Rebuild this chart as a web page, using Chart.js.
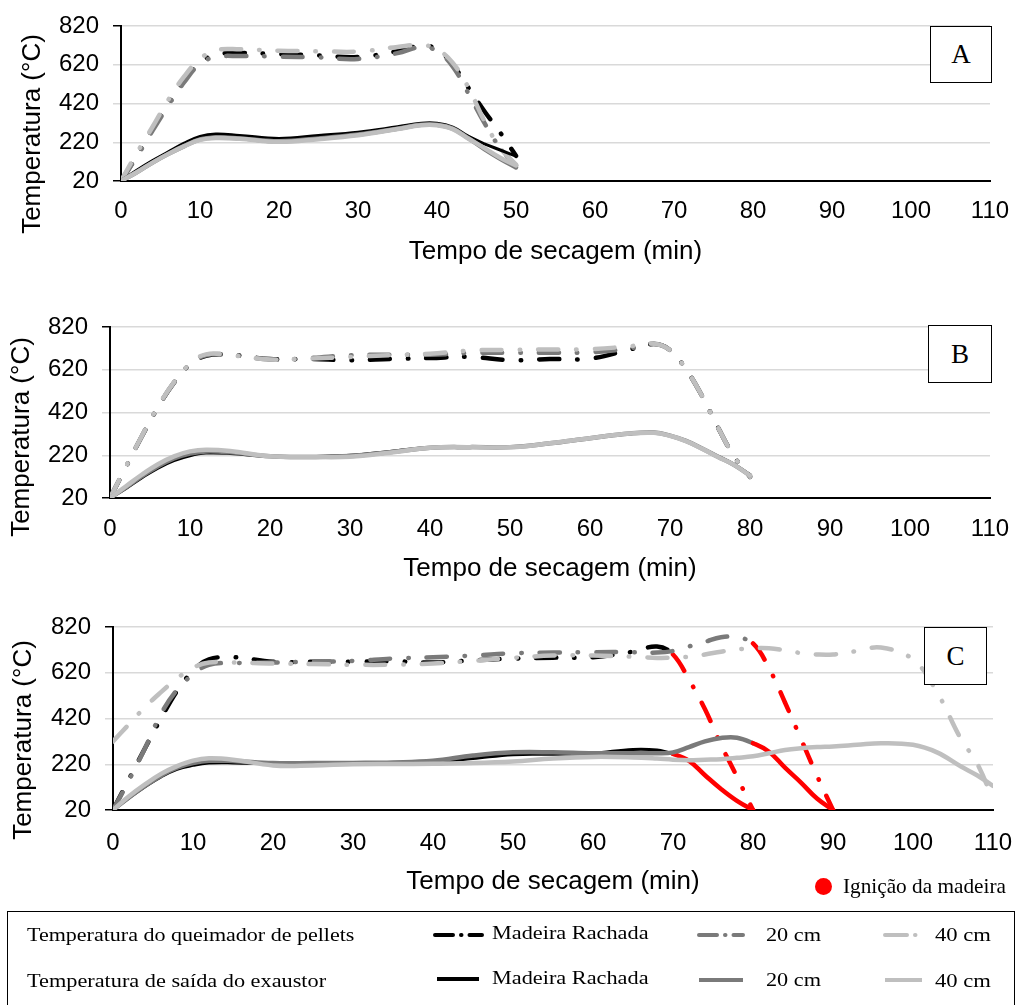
<!DOCTYPE html>
<html>
<head>
<meta charset="utf-8">
<script src="https://cdn.jsdelivr.net/npm/chart.js"></script>
<style>
body { margin:0; background:#fff; width:1017px; height:1005px; position:relative; overflow:hidden; font-family:"Liberation Sans", Arial, sans-serif; }
canvas { position:absolute; left:0; }
.tag { position:absolute; border:1.5px solid #000; background:#fff; box-sizing:border-box;
       font:27px "Liberation Serif", "Times New Roman", serif; display:flex; align-items:center; justify-content:center; }
.legenda { position:absolute; left:7px; top:911px; width:1008px; height:120px; border:1.5px solid #000; box-sizing:border-box; }
.lg { position:absolute; font:19px "Liberation Serif", "Times New Roman", serif; white-space:nowrap; line-height:24px; transform-origin:left center; }
svg { position:absolute; left:0; top:0; }
</style>
</head>
<body>

<canvas id="chartA" width="1017" height="280" style="top:0px"></canvas>
<canvas id="chartB" width="1017" height="310" style="top:290px"></canvas>
<canvas id="chartC" width="1017" height="300" style="top:600px"></canvas>

<div class="tag" style="left:930px;top:26px;width:62px;height:57px">A</div>
<div class="tag" style="left:928px;top:325px;width:64px;height:58px">B</div>
<div class="tag" style="left:924px;top:627px;width:63px;height:58px">C</div>

<div style="position:absolute;left:815px;top:878px;width:17px;height:17px;border-radius:50%;background:#ff0000"></div>
<div class="lg" data-w="163" style="left:843px;top:886px;font-size:21px">Ignição da madeira</div>

<div class="legenda"></div>
<svg width="1017" height="1005">
  <line x1="435" y1="935" x2="482" y2="935" stroke="#000" stroke-width="4" stroke-dasharray="18 8 0.5 8" stroke-linecap="round"/>
  <line x1="699" y1="935" x2="743" y2="935" stroke="#7a7a7a" stroke-width="4" stroke-dasharray="18 8 0.5 8" stroke-linecap="round"/>
  <line x1="885" y1="935" x2="922" y2="935" stroke="#bfbfbf" stroke-width="4" stroke-dasharray="22 8 0.5 8" stroke-linecap="round"/>
  <line x1="437" y1="979" x2="479" y2="979" stroke="#000" stroke-width="4"/>
  <line x1="699" y1="980" x2="743" y2="980" stroke="#7a7a7a" stroke-width="4"/>
  <line x1="885" y1="980" x2="922" y2="980" stroke="#bfbfbf" stroke-width="4"/>
</svg>
<div class="lg" data-w="328" style="left:27px;top:935px">Temperatura do queimador de pellets</div>
<div class="lg" data-w="156" style="left:492px;top:933px">Madeira Rachada</div>
<div class="lg" data-w="55" style="left:766px;top:935px">20 cm</div>
<div class="lg" data-w="56" style="left:935px;top:935px">40 cm</div>
<div class="lg" data-w="299" style="left:27px;top:981px">Temperatura de saída do exaustor</div>
<div class="lg" data-w="156" style="left:492px;top:978px">Madeira Rachada</div>
<div class="lg" data-w="55" style="left:766px;top:980px">20 cm</div>
<div class="lg" data-w="56" style="left:935px;top:981px">40 cm</div>

<script>
// ---- dados ----
var tempoA = [0, 2, 4, 6, 8, 10, 12, 15, 20, 25, 30, 35, 38, 40, 42, 44, 46, 48, 50];
var queimA_rachada = [20, 150, 290, 420, 540, 630, 672, 680, 675, 668, 660, 690, 718, 700, 620, 500, 380, 270, 150];
var queimA_20cm    = [20, 145, 280, 410, 530, 625, 660, 665, 662, 658, 650, 680, 712, 690, 610, 470, 320, 190, 100];
var queimA_40cm    = [20, 165, 300, 440, 560, 650, 695, 700, 692, 690, 688, 712, 722, 700, 630, 500, 330, 190, 105];
var exausA_rachada = [20, 75, 125, 170, 215, 250, 262, 255, 240, 255, 272, 300, 318, 318, 298, 250, 212, 180, 148];
var exausA_20cm    = [20, 65, 115, 160, 200, 235, 245, 240, 225, 240, 260, 290, 310, 310, 290, 240, 185, 135, 90];
var exausA_40cm    = [20, 65, 115, 160, 200, 232, 242, 238, 222, 236, 256, 288, 308, 308, 288, 238, 190, 140, 100];

var tempoB = [0, 2, 4, 6, 8, 10, 12, 15, 20, 25, 30, 35, 40, 45, 50, 55, 60, 65, 68, 70, 72, 74, 76, 78, 80];
var queimB_rachada = [20, 165, 310, 445, 560, 645, 685, 690, 670, 670, 665, 670, 675, 680, 665, 670, 672, 715, 740, 712, 622, 498, 350, 215, 120];
var queimB_20cm    = [20, 165, 310, 445, 560, 645, 688, 690, 668, 675, 688, 690, 690, 698, 700, 700, 702, 720, 742, 712, 622, 498, 350, 215, 118];
var queimB_40cm    = [20, 168, 312, 448, 562, 648, 692, 688, 668, 672, 680, 688, 695, 710, 713, 715, 716, 730, 742, 712, 622, 498, 350, 215, 120];
var exausB_rachada = [20, 65, 115, 160, 195, 218, 230, 228, 214, 214, 220, 238, 256, 258, 258, 275, 298, 320, 325, 312, 288, 252, 215, 178, 130];
var exausB_20cm    = [20, 70, 122, 168, 205, 228, 238, 234, 215, 212, 216, 234, 255, 258, 258, 276, 300, 322, 326, 312, 287, 252, 213, 175, 125];
var exausB_40cm    = [20, 75, 130, 178, 215, 238, 246, 240, 215, 212, 213, 232, 255, 258, 257, 276, 300, 322, 325, 311, 286, 251, 212, 175, 125];

var tempoC = [0, 2, 4, 6, 8, 10, 12, 15, 20, 25, 30, 35, 40, 45, 50, 55, 60, 65, 68, 70, 72, 74, 76, 78, 80, 82, 84, 86, 88, 90, 93, 96, 100, 103, 106, 108, 110];
var queimC_rachada = [20, 155, 290, 420, 540, 628, 678, 688, 668, 668, 668, 670, 665, 674, 682, 686, 688, 712, 735, 700, 590, 460, 305, 165, 20,
                      null, null, null, null, null, null, null, null, null, null, null, null];
var queimC_20cm    = [20, 150, 290, 440, 545, 612, 655, 662, 665, 668, 672, 682, 688, 695, 705, 708, 710, 710, 708, 715, 735, 755, 775, 775, 748, 640, 490, 330, 170, 20,
                      null, null, null, null, null, null, null];
var queimC_40cm    = [320, 395, 470, 535, 595, 642, 665, 665, 660, 658, 655, 655, 660, 672, 685, 695, 695, 690, 685, 686, 690, 700, 712, 722, 727, 727, 718, 706, 700, 700, 715, 730, 678, 535, 330, 225, 65];
var exausC_rachada = [20, 72, 122, 165, 198, 215, 225, 226, 222, 222, 224, 226, 230, 245, 262, 264, 268, 285, 282, 265, 235, 172, 112, 60, 20,
                      null, null, null, null, null, null, null, null, null, null, null, null];
var exausC_20cm    = [20, 75, 125, 170, 205, 225, 235, 234, 225, 225, 226, 228, 235, 258, 272, 272, 268, 268, 268, 272, 295, 320, 335, 336, 312, 275, 205, 140, 70, 20,
                      null, null, null, null, null, null, null];
var exausC_40cm    = [20, 80, 132, 178, 212, 236, 246, 240, 215, 215, 220, 221, 222, 225, 232, 245, 252, 250, 245, 240, 238, 240, 242, 248, 255, 268, 282, 290, 295, 298, 305, 312, 305, 272, 210, 172, 125];

// ignição da madeira no ensaio C (min)
var ignicaoC_rachada = 70;
var ignicaoC_20cm = 80;

var yTicks = [20, 220, 420, 620, 820];
var xTicks = [0, 10, 20, 30, 40, 50, 60, 70, 80, 90, 100, 110];

var PRETO = '#000000', CINZA = '#7a7a7a', CLARO = '#bfbfbf', VERMELHO = '#ff0000';
var FONTE = '"Liberation Sans", Arial, sans-serif';

function pontos(tempo, valores) {
    var out = [];
    tempo.forEach(function(t, i) {
        if (valores[i] != null) out.push({ x: t, y: valores[i] });
    });
    return out;
}

function linha(tempo, valores, cor, tracejada, ignicao) {
    var ds = {
        data: pontos(tempo, valores),
        borderColor: cor,
        borderWidth: tracejada ? 4.5 : (cor === PRETO ? 3 : 4.5),
        borderDash: tracejada ? [20, 18, 0.5, 18] : [],
        borderCapStyle: 'round',
        borderJoinStyle: 'round',
        pointRadius: 0,
        tension: 0.4,
        fill: false
    };
    if (ignicao != null) {
        ds.segment = {
            borderColor: function(c) { return c.p0.parsed.x >= ignicao ? VERMELHO : undefined; },
            borderWidth: function(c) { return c.p0.parsed.x >= ignicao ? 4.5 : undefined; }
        };
    }
    return ds;
}

// titulo do eixo y desenhado na posição do original
var tituloY = {
    id: 'tituloY',
    afterDraw: function(chart, args, opts) {
        var ctx = chart.ctx;
        ctx.save();
        ctx.translate(opts.x, opts.y);
        ctx.rotate(-Math.PI / 2);
        ctx.font = '26px ' + FONTE;
        ctx.fillStyle = '#000';
        ctx.textAlign = 'center';
        ctx.textBaseline = 'middle';
        ctx.fillText('Temperatura (°C)', 0, 0);
        ctx.restore();
    }
};

function grafico(id, datasets, area, altura, tickPad, titlePad, yPos) {
    return new Chart(document.getElementById(id), {
        type: 'line',
        data: { datasets: datasets },
        plugins: [tituloY],
        options: {
            responsive: false,
            animation: false,
            layout: { padding: { left: 0, top: area.top, right: 1017 - area.right, bottom: 0 } },
            plugins: {
                legend: { display: false },
                tooltip: { enabled: false },
                tituloY: { x: yPos[0], y: yPos[1] }
            },
            scales: {
                x: {
                    type: 'linear', min: 0, max: 110,
                    afterBuildTicks: function(s) { s.ticks = xTicks.map(function(v) { return { value: v }; }); },
                    ticks: { padding: tickPad, color: '#000', font: { size: 24, family: FONTE }, maxRotation: 0, autoSkip: false },
                    grid: { display: false, drawTicks: false },
                    border: { color: '#000', width: 2 },
                    title: { display: true, text: 'Tempo de secagem (min)', color: '#000',
                             font: { size: 26, family: FONTE }, padding: { top: 0, bottom: titlePad } },
                    afterFit: function(s) {
                        s.height = altura - area.bottom;
                        s.paddingLeft = 0;
                        s.paddingRight = 0;
                    }
                },
                y: {
                    min: 20, max: 820,
                    afterBuildTicks: function(s) { s.ticks = yTicks.map(function(v) { return { value: v }; }); },
                    ticks: { padding: 14, color: '#000', font: { size: 24, family: FONTE } },
                    grid: {
                        color: '#d9d9d9', lineWidth: 1.5, tickLength: 8,
                        tickColor: function(c) { return (c.tick && (c.tick.value === 820 || c.tick.value === 20)) ? '#000' : '#d9d9d9'; }
                    },
                    border: { color: '#000', width: 2 },
                    afterFit: function(s) {
                        s.width = area.left;
                        s.paddingTop = 0;
                        s.paddingBottom = 0;
                    }
                }
            }
        }
    });
}

// a série mais clara fica por cima, como no original
grafico('chartA', [
    linha(tempoA, exausA_40cm, CLARO, false),
    linha(tempoA, exausA_20cm, CINZA, false),
    linha(tempoA, exausA_rachada, PRETO, false),
    linha(tempoA, queimA_40cm, CLARO, true),
    linha(tempoA, queimA_20cm, CINZA, true),
    linha(tempoA, queimA_rachada, PRETO, true)
], { left: 121, right: 990, top: 26, bottom: 181 }, 280, 16, 13, [33, 134]);

grafico('chartB', [
    linha(tempoB, exausB_40cm, CLARO, false),
    linha(tempoB, exausB_20cm, CINZA, false),
    linha(tempoB, exausB_rachada, PRETO, false),
    linha(tempoB, queimB_40cm, CLARO, true),
    linha(tempoB, queimB_20cm, CINZA, true),
    linha(tempoB, queimB_rachada, PRETO, true)
], { left: 110, right: 990, top: 37, bottom: 208 }, 310, 17, 16, [22, 147]);

grafico('chartC', [
    linha(tempoC, exausC_40cm, CLARO, false),
    linha(tempoC, exausC_20cm, CINZA, false, ignicaoC_20cm),
    linha(tempoC, exausC_rachada, PRETO, false, ignicaoC_rachada),
    linha(tempoC, queimC_40cm, CLARO, true),
    linha(tempoC, queimC_20cm, CINZA, true, ignicaoC_20cm),
    linha(tempoC, queimC_rachada, PRETO, true, ignicaoC_rachada)
], { left: 113, right: 993, top: 27, bottom: 210 }, 300, 19, 3, [24, 140]);

// ajusta a largura dos textos da legenda
document.querySelectorAll('.lg').forEach(function(el) {
    var w = +el.dataset.w;
    el.style.transform = 'translateY(-50%) scaleX(' + (w / el.offsetWidth) + ')';
});
</script>
</body>
</html>
